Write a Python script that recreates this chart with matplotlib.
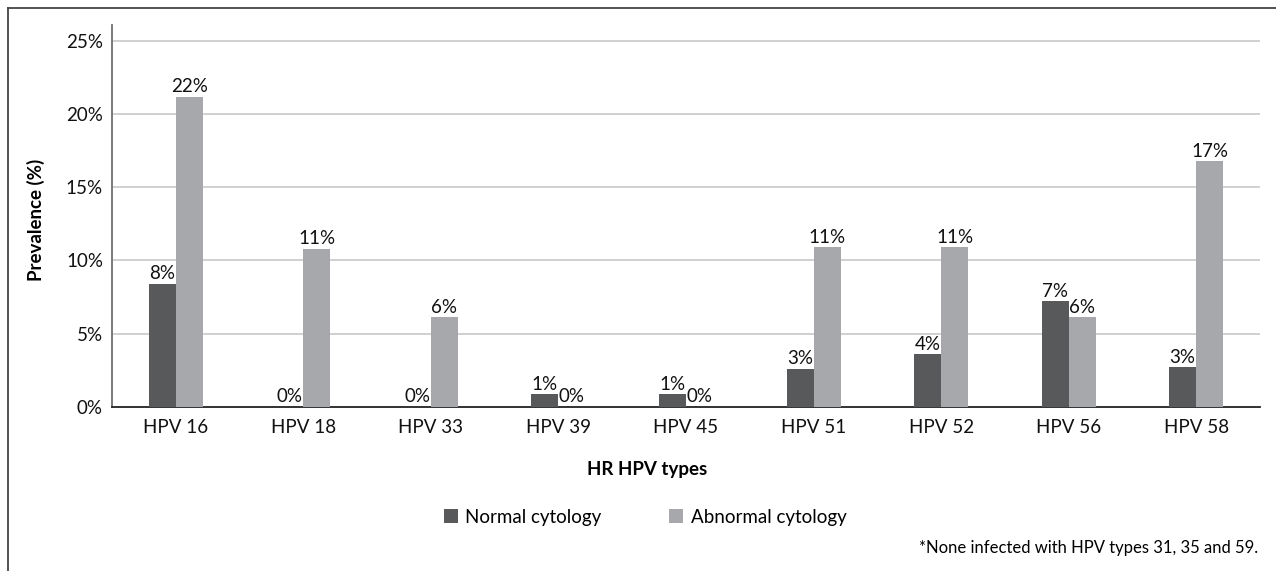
import numpy as np
import matplotlib.pyplot as plt
from matplotlib.lines import Line2D

# data
types = ["HPV 16", "HPV 18", "HPV 33", "HPV 39", "HPV 45", "HPV 51", "HPV 52", "HPV 56", "HPV 58"]
normal = [8.4, 0, 0, 0.86, 0.86, 2.6, 3.6, 7.2, 2.7]
abnormal = [21.2, 10.8, 6.1, 0, 0, 10.9, 10.9, 6.1, 16.8]
normal_lbl = ["8%", "0%", "0%", "1%", "1%", "3%", "4%", "7%", "3%"]
abnormal_lbl = ["22%", "11%", "6%", "0%", "0%", "11%", "11%", "6%", "17%"]

plt.rcParams['font.family'] = ['Lato', 'DejaVu Sans']
fs = 13.5

W, H = 1276, 571
fig = plt.figure(figsize=(W / 100, H / 100), dpi=100)
ax = fig.add_axes([112 / W, 1 - 406.7 / H, (1260 - 112) / W, (406.7 - 25) / H])

x = np.arange(len(types))
bw = 0.212
c_norm = "#58595b"
c_abn = "#a7a8ab"

b1 = ax.bar(x - bw / 2, normal, bw, color=c_norm, label="Normal cytology", zorder=3)
b2 = ax.bar(x + bw / 2, abnormal, bw, color=c_abn, label="Abnormal cytology", zorder=3)
ax.bar_label(b1, labels=normal_lbl, padding=1, fontsize=fs, color="#111111")
ax.bar_label(b2, labels=abnormal_lbl, padding=1, fontsize=fs, color="#111111")

ax.set_xlim(-0.5, len(types) - 0.5)
ax.set_ylim(0, 26.1)
ax.set_yticks([0, 5, 10, 15, 20, 25])
ax.set_yticklabels(["0%", "5%", "10%", "15%", "20%", "25%"])
ax.set_xticks(x)
ax.set_xticklabels(types)
ax.tick_params(axis="both", length=0, labelsize=fs, labelcolor="#111111")
ax.tick_params(axis="y", pad=6.5)
ax.tick_params(axis="x", pad=9)

for yv in [5, 10, 15, 20, 25]:
    ax.axhline(yv, color="#c8c8c8", lw=1.2, zorder=1)

for s in ["top", "right"]:
    ax.spines[s].set_visible(False)
ax.spines["left"].set_color("#6d6e70")
ax.spines["left"].set_linewidth(1.3)
ax.spines["bottom"].set_color("#222222")
ax.spines["bottom"].set_linewidth(1.3)

fig.text(36 / W, 1 - 220 / H, "Prevalence (%)", rotation=90, ha="center", va="center",
         fontsize=fs, fontweight="bold")
fig.text(647 / W, 1 - 469 / H, "HR HPV types", ha="center", va="center",
         fontsize=fs, fontweight="bold")

fig.legend(handles=[b1, b2], loc="center", bbox_to_anchor=(645 / W, 1 - 517 / H),
           ncol=2, frameon=False, fontsize=fs, handlelength=0.75, handleheight=0.75,
           columnspacing=3.6, handletextpad=0.4)

fig.text(1258 / W, 1 - 548 / H, "*None infected with HPV types 31, 35 and 59.",
         ha="right", va="center", fontsize=12)

# outer frame (top and left edges)
fig.add_artist(Line2D([8 / W, 8 / W], [0, 1 - 8 / H], color="#444444", lw=1.3))
fig.add_artist(Line2D([8 / W, 1], [1 - 8 / H, 1 - 8 / H], color="#444444", lw=1.3))

fig.savefig("out.png", dpi=100)
